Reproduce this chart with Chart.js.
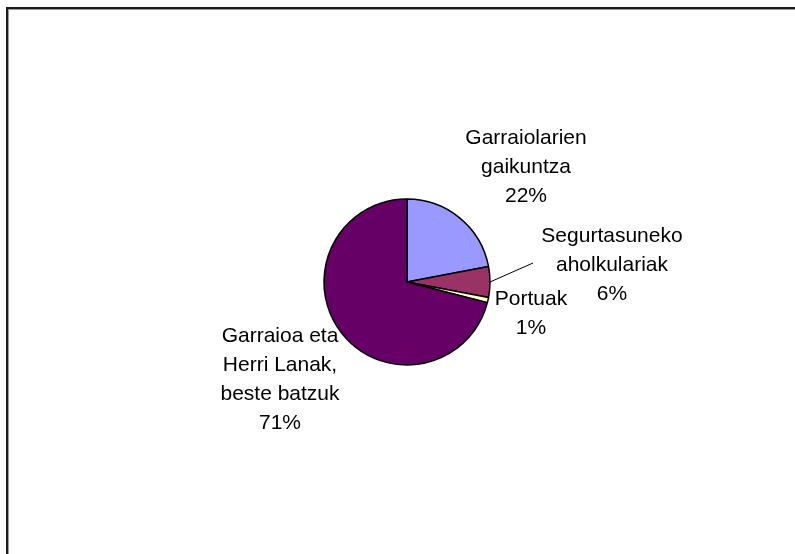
<!DOCTYPE html>
<html>
<head>
<meta charset="utf-8">
<script src="https://cdn.jsdelivr.net/npm/chart.js@4/dist/chart.umd.min.js"></script>
<style>
  html, body { margin: 0; padding: 0; background: #fff; }
  #wrap { position: relative; width: 795px; height: 554px; overflow: hidden; }
  #frame {
    position: absolute; left: 6px; top: 7px; width: 900px; height: 700px;
    border-left: 2px solid #1c1c1c; border-top: 2px solid #1c1c1c;
    box-shadow: inset 1px 1px 0 #9a9a9a;
  }
  canvas { position: absolute; left: 0; top: 0; }
</style>
</head>
<body>
<div id="wrap">
  <div id="frame"></div>
  <canvas id="pieChart" width="795" height="554"></canvas>
</div>
<script>
// Data kategori dan persentase
const categories = [
  ["Garraiolarien", "gaikuntza"],
  ["Segurtasuneko", "aholkulariak"],
  ["Portuak"],
  ["Garraioa eta", "Herri Lanak,", "beste batzuk"]
];
const values = [22, 6, 1, 71];
const percentLabels = ["22%", "6%", "1%", "71%"];
const colors = ["#9999FF", "#993366", "#FFFFCC", "#660066"];

// posisi label relatif ke pusat pie (dx, baseline baris pertama)
const labelOffsets = [[119, -138], [205, -40], [124, 23], [-127, 60]];
const lineHeight = 29;

const labelPlugin = {
  id: "pieLabels",
  afterDatasetsDraw(chart) {
    const ctx = chart.ctx;
    const arcs = chart.getDatasetMeta(0).data;
    const cx = arcs[0].x, cy = arcs[0].y;
    ctx.save();
    ctx.fillStyle = "#000";
    ctx.font = "21px 'Liberation Sans', Arial, sans-serif";
    ctx.textAlign = "center";
    ctx.textBaseline = "alphabetic";
    categories.forEach((lines, i) => {
      const [dx, dy] = labelOffsets[i];
      const all = lines.concat([percentLabels[i]]);
      all.forEach((t, k) => {
        ctx.fillText(t, cx + dx, cy + dy + k * lineHeight);
      });
    });

    // garis penunjuk untuk Segurtasuneko aholkulariak
    const a = arcs[1];
    const mid = (a.startAngle + a.endAngle) / 2;
    const sx = cx + Math.cos(mid) * a.outerRadius;
    const sy = cy + Math.sin(mid) * a.outerRadius;
    ctx.strokeStyle = "#000";
    ctx.lineWidth = 1;
    ctx.beginPath();
    ctx.moveTo(sx, sy);
    ctx.lineTo(cx + 126, cy - 19);
    ctx.stroke();
    ctx.restore();
  }
};

function renderPie() {
  const ctx = document.getElementById("pieChart").getContext("2d");
  new Chart(ctx, {
    type: "pie",
    data: {
      labels: categories.map((c) => c.join(" ")),
      datasets: [
        {
          data: values,
          backgroundColor: colors,
          borderColor: "#000",
          borderWidth: 1.5,
          radius: 83,
        },
      ],
    },
    options: {
      responsive: false,
      animation: false,
      layout: { padding: { left: 120, right: 101, top: 110, bottom: 100 } },
      plugins: {
        legend: { display: false },
        tooltip: { enabled: false },
      },
    },
    plugins: [labelPlugin],
  });
}

document.addEventListener("DOMContentLoaded", renderPie);
</script>
</body>
</html>
